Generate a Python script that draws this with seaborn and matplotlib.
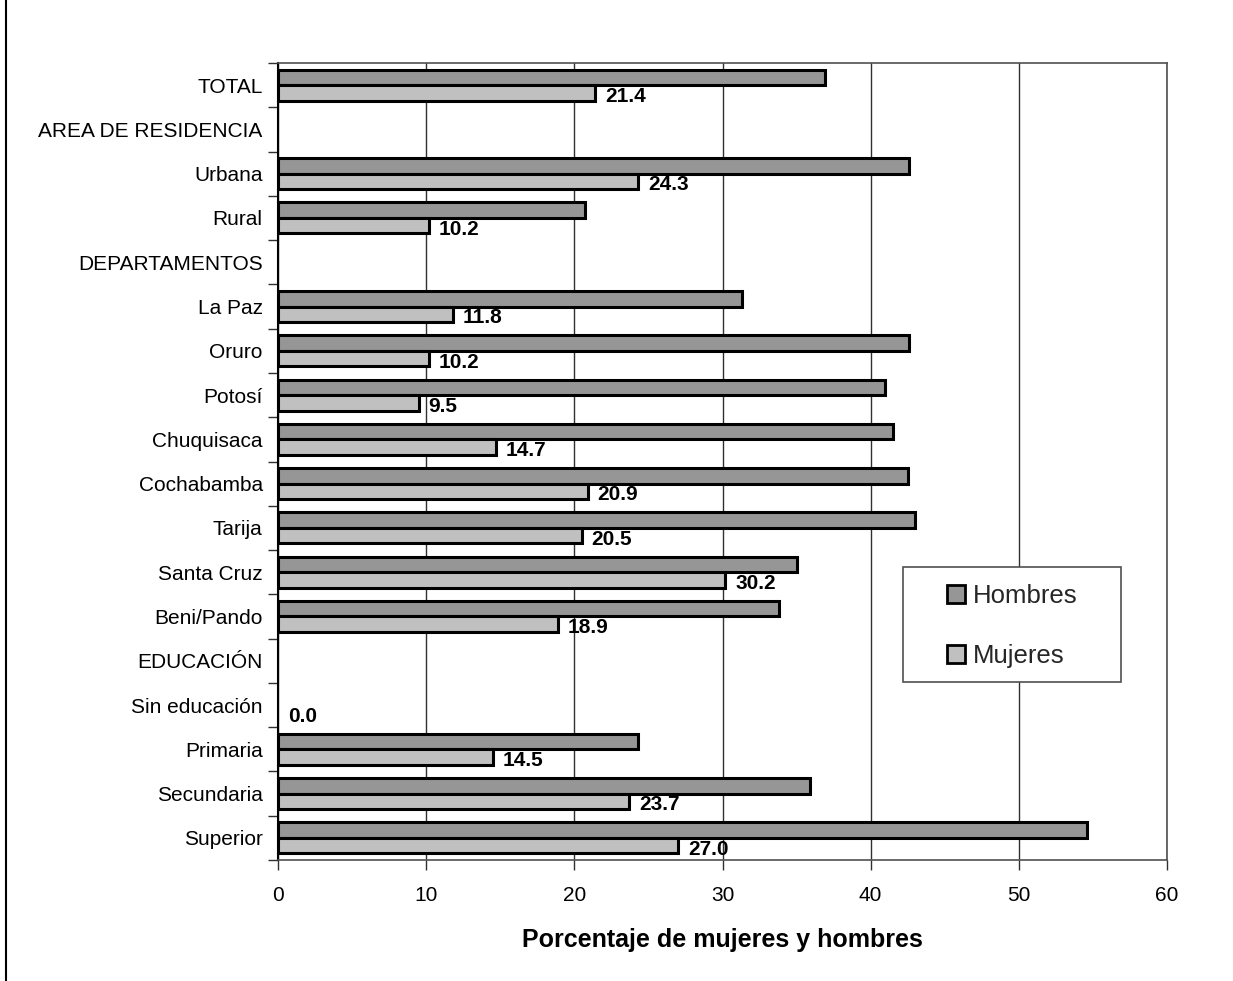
import numpy as np
import pandas as pd
import matplotlib
matplotlib.use("Agg")
import matplotlib.pyplot as plt
import seaborn as sns
from matplotlib.patches import Rectangle
from matplotlib.lines import Line2D
from matplotlib.ticker import FixedLocator

categories = ["TOTAL", "AREA DE RESIDENCIA", "Urbana", "Rural", "DEPARTAMENTOS",
              "La Paz", "Oruro", "Potosí", "Chuquisaca", "Cochabamba", "Tarija",
              "Santa Cruz", "Beni/Pando", "EDUCACIÓN", "Sin educación", "Primaria",
              "Secundaria", "Superior"]
hombres = [36.9, np.nan, 42.6, 20.7, np.nan, 31.3, 42.6, 41.0, 41.5, 42.5, 43.0,
           35.0, 33.8, np.nan, np.nan, 24.3, 35.9, 54.6]
mujeres = [21.4, np.nan, 24.3, 10.2, np.nan, 11.8, 10.2, 9.5, 14.7, 20.9, 20.5,
           30.2, 18.9, np.nan, 0.0, 14.5, 23.7, 27.0]
series = ["Hombres", "Mujeres"]
colors = {"Hombres": "#969696", "Mujeres": "#c0c0c0"}
xticks = [0, 10, 20, 30, 40, 50, 60]
xlabel = "Porcentaje de mujeres y hombres"

df = pd.DataFrame({
    "cat": categories * 2,
    "val": hombres + mujeres,
    "sexo": ["Hombres"] * len(categories) + ["Mujeres"] * len(categories),
})

sns.set_theme(style="white")
plt.rcParams["font.family"] = ["Liberation Sans", "DejaVu Sans"]

fig = plt.figure(figsize=(12.33, 9.81), dpi=100)
ax = fig.add_axes([278 / 1233, 1 - 860 / 981, (1167 - 278) / 1233, (860 - 63) / 981])

sns.barplot(data=df, y="cat", x="val", hue="sexo", order=categories,
            hue_order=series, palette=colors, edgecolor="black", linewidth=2.2,
            width=0.7, orient="h", errorbar=None, ax=ax, legend=False, zorder=3)

# zero-width bars: no outline
for p in ax.patches:
    w = p.get_width()
    if np.isnan(w) or w == 0:
        p.set_linewidth(0)

# value labels for Mujeres
cont = ax.containers[1]
for p in cont.patches:
    w = p.get_width()
    if np.isnan(w):
        continue
    yc = p.get_y() + p.get_height() / 2
    ax.annotate(f"{w:.1f}", xy=(w, yc), xytext=(7, -2.5), textcoords="offset points",
                ha="left", va="center", fontsize=15, fontweight="bold",
                color="black", zorder=4)

ax.set_xlim(0, 60)
ax.set_ylim(len(categories) - 0.5, -0.5)
ax.set_xticks(xticks)
ax.set_xticklabels([str(t) for t in xticks])
ax.xaxis.grid(True, color="#303030", linewidth=1.0, zorder=0)
ax.yaxis.grid(False)
ax.set_axisbelow(True)

ax.set_ylabel("")
ax.set_xlabel(xlabel, fontsize=18, fontweight="bold", labelpad=16, color="black")
ax.tick_params(axis="x", which="major", direction="out", length=7, width=1,
               color="#303030", labelsize=15, pad=12, bottom=True, labelcolor="black")
ax.tick_params(axis="y", which="major", length=0, labelsize=15, pad=11,
               labelcolor="black", left=False)
ax.yaxis.set_minor_locator(FixedLocator(np.arange(-0.5, len(categories), 1.0)))
ax.tick_params(axis="y", which="minor", direction="out", length=7, width=1,
               color="#303030", left=True)

for s in ["top", "right", "bottom"]:
    ax.spines[s].set_color("#505050")
    ax.spines[s].set_linewidth(1.2)
ax.spines["left"].set_color("black")
ax.spines["left"].set_linewidth(1.5)

# legend
handles = [Rectangle((0, 0), 1, 1, facecolor=colors[s], edgecolor="black", linewidth=2)
           for s in series]
box_x0 = (903 - 278) / 889
box_x1 = (1121 - 278) / 889
box_y1 = (860 - 567) / 797
box_y0 = (860 - 682) / 797
frame = Rectangle((box_x0, box_y0), box_x1 - box_x0, box_y1 - box_y0,
                  transform=ax.transAxes, facecolor="white", edgecolor="#505050",
                  linewidth=1.2, zorder=5)
ax.add_patch(frame)
leg = ax.legend(handles, series, loc="center",
                bbox_to_anchor=((box_x0 + box_x1) / 2, (box_y0 + box_y1) / 2 - 0.002),
                frameon=False, fontsize=18.5, handlelength=0.7, handleheight=0.7,
                handletextpad=0.3, labelspacing=1.4, borderpad=0.2)
leg.set_zorder(6)

# figure left border
fig.add_artist(Line2D([5.5 / 1233, 5.5 / 1233], [0, 1], transform=fig.transFigure,
                      color="black", linewidth=1.5))

fig.savefig("out.png", dpi=100, facecolor="white")
